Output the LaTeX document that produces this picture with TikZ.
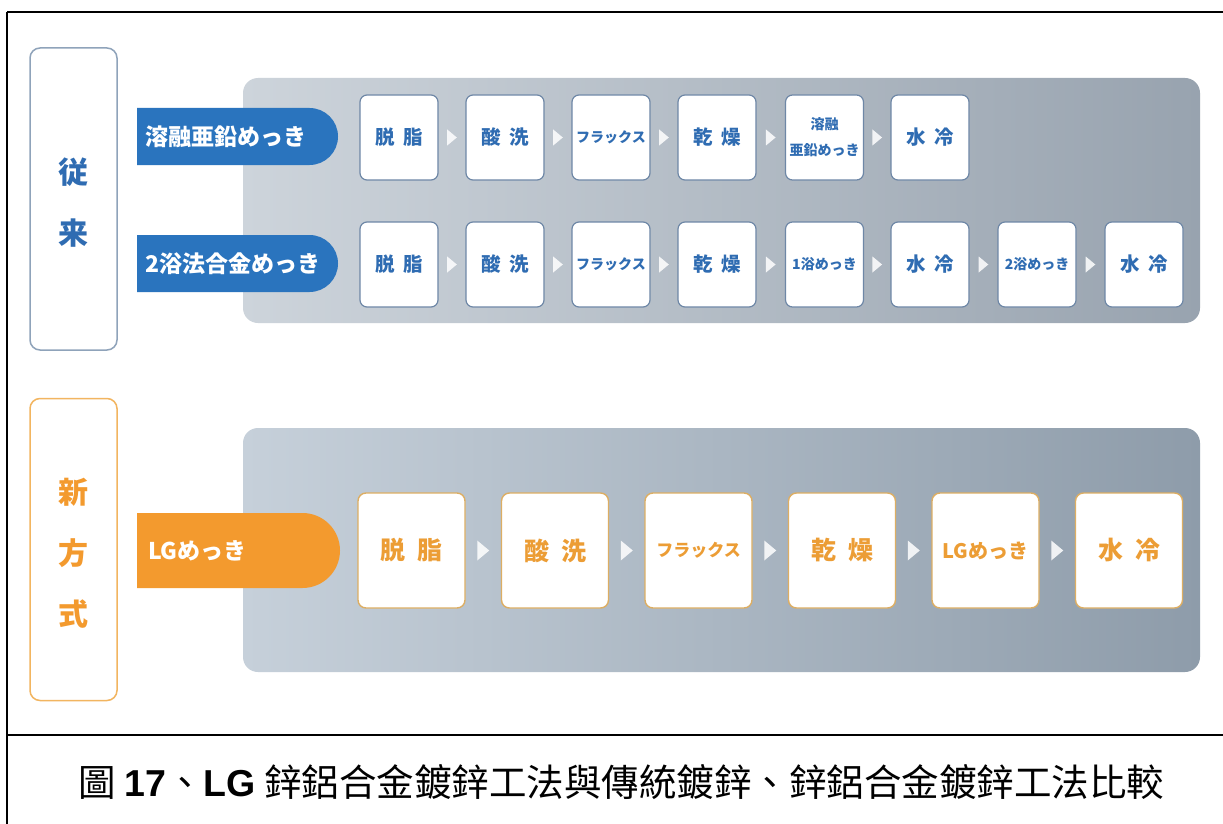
\documentclass[tikz,border=0pt]{standalone}
\usepackage{fontspec}
\newfontfamily\jp{Noto Sans CJK JP}
\newfontfamily\tc{Noto Sans CJK TC}
\newfontfamily\ar{Liberation Sans}
\usetikzlibrary{shapes.misc,calc}
\definecolor{tabblue}{HTML}{2A74BE}
\definecolor{txtblue}{HTML}{2F6CB2}
\definecolor{bordblue}{HTML}{6E87A6}
\definecolor{lblblue}{HTML}{8FA3BA}
\definecolor{orng}{HTML}{F39A2E}
\definecolor{txtorng}{HTML}{EC9D35}
\definecolor{bordorng}{HTML}{DDAE63}
\definecolor{lblorng}{HTML}{F2B560}
\definecolor{panelL}{HTML}{CDD4DB}
\definecolor{panelR}{HTML}{98A3AF}
\definecolor{panelLb}{HTML}{C6D0DA}
\definecolor{panelRb}{HTML}{8E9CAA}
\newcommand\stepTri[3]{%
  \fill[arrw] ($(#1.east)!0.5!(#2.west)$) ++(-0.6*#3,-#3) -- ++(1.2*#3,#3) -- ++(-1.2*#3,#3) -- cycle;}
\begin{document}
\begin{tikzpicture}[x=1pt,y=-1pt,
  arrw/.style={fill=white, fill opacity=0.85},
  lbox/.style={rounded corners=10pt, line width=1.5pt, minimum width=87pt, minimum height=302pt, fill=white},
  ltext/.style={font=\jp\bfseries\fontsize{30}{61}\selectfont, align=center, inner sep=0pt},
  tabshape/.style={rounded rectangle, rounded rectangle left arc=none, inner sep=0pt},
  tabtext/.style={anchor=west, inner sep=0pt, text=white, font=\jp\bfseries\fontsize{23}{25}\selectfont},
  sbox/.style={draw=bordblue, line width=1.2pt, fill=white, rounded corners=7pt, minimum width=78pt, minimum height=85pt, inner sep=0pt, text=txtblue, align=center, font=\jp\bfseries\fontsize{19.5}{21}\selectfont},
  small/.style={font=\jp\bfseries\fontsize{14}{25}\selectfont},
  obox/.style={draw=bordorng, line width=1.4pt, fill=white, rounded corners=8pt, minimum width=107pt, minimum height=115pt, inner sep=0pt, text=txtorng, align=center, font=\jp\bfseries\fontsize{25}{27}\selectfont},
  osmall/.style={font=\jp\bfseries\fontsize{17}{20}\selectfont}
]
\useasboundingbox (0,0) rectangle (1223,824);
\fill[white] (0,0) rectangle (1223,824);
% frame
\draw[line width=2pt] (7,12) -- (1223,12);
\draw[line width=2pt] (7,12) -- (7,824);
\draw[line width=2pt] (7,735) -- (1223,735);

% left labels
\node[lbox, draw=lblblue] (conv) at (73.5,199) {};
\node[ltext, text=txtblue] (convt) at (73.5,202.5) {従\\来};
\node[lbox, draw=lblorng] (newm) at (73.5,549.5) {};
\node[ltext, text=orng] (newt) at (73.5,553) {新\\方\\式};

% panels
\shade[rounded corners=15pt, left color=panelL, right color=panelR] (243,78) rectangle (1200,323);
\shade[rounded corners=15pt, left color=panelLb, right color=panelRb] (243,428) rectangle (1200,672);

% tabs
\node[tabshape, fill=tabblue, minimum width=201pt, minimum height=57pt] (tab1) at (237.5,136.5) {};
\node[tabtext] (tab1t) at (145,137) {溶融亜鉛めっき};
\node[tabshape, fill=tabblue, minimum width=201pt, minimum height=57pt] (tab2) at (237.5,263.5) {};
\node[tabtext] (tab2t) at (145,264) {2浴法合金めっき};
\node[tabshape, fill=orng, minimum width=203pt, minimum height=75pt] (tab3) at (238.5,550.5) {};
\node[tabtext] (tab3t) at (148,551) {LGめっき};

% row 1
\node[sbox] (a1) at (399,137.5) {脱\hspace{8pt}脂};
\node[sbox] (a2) at (505,137.5) {酸\hspace{8pt}洗};
\node[sbox, small] (a3) at (611,137.5) {フラックス};
\node[sbox] (a4) at (717,137.5) {乾\hspace{8pt}燥};
\node[sbox, font=\jp\bfseries\fontsize{14}{26}\selectfont] (a5) at (824.5,137.5) {溶融\\亜鉛めっき};
\node[sbox] (a6) at (930,137.5) {水\hspace{8pt}冷};
\stepTri{a1}{a2}{8}
\stepTri{a2}{a3}{8}
\stepTri{a3}{a4}{8}
\stepTri{a4}{a5}{8}
\stepTri{a5}{a6}{8}

% row 2
\node[sbox] (b1) at (399,264.5) {脱\hspace{8pt}脂};
\node[sbox] (b2) at (505,264.5) {酸\hspace{8pt}洗};
\node[sbox, small] (b3) at (611,264.5) {フラックス};
\node[sbox] (b4) at (717,264.5) {乾\hspace{8pt}燥};
\node[sbox, small] (b5) at (824.5,264.5) {1浴めっき};
\node[sbox] (b6) at (930,264.5) {水\hspace{8pt}冷};
\node[sbox, small] (b7) at (1037,264.5) {2浴めっき};
\node[sbox] (b8) at (1144,264.5) {水\hspace{8pt}冷};
\stepTri{b1}{b2}{8}
\stepTri{b2}{b3}{8}
\stepTri{b3}{b4}{8}
\stepTri{b4}{b5}{8}
\stepTri{b5}{b6}{8}
\stepTri{b6}{b7}{8}
\stepTri{b7}{b8}{8}

% row 3
\node[obox] (c1) at (411.5,550.5) {脱\hspace{12pt}脂};
\node[obox] (c2) at (555,550.5) {酸\hspace{12pt}洗};
\node[obox, osmall] (c3) at (698.5,550.5) {フラックス};
\node[obox] (c4) at (842,550.5) {乾\hspace{12pt}燥};
\node[obox, font=\jp\bfseries\fontsize{20}{22}\selectfont] (c5) at (985.5,550.5) {LGめっき};
\node[obox] (c6) at (1129,550.5) {水\hspace{12pt}冷};
\stepTri{c1}{c2}{10}
\stepTri{c2}{c3}{10}
\stepTri{c3}{c4}{10}
\stepTri{c4}{c5}{10}
\stepTri{c5}{c6}{10}

% caption
\node[font=\tc\fontsize{37.5}{40}\selectfont, inner sep=0pt] (cap) at (621.5,782) {圖 {\ar\bfseries 17}、{\ar\bfseries LG} 鋅鋁合金鍍鋅工法與傳統鍍鋅、鋅鋁合金鍍鋅工法比較};
\end{tikzpicture}
\end{document}
